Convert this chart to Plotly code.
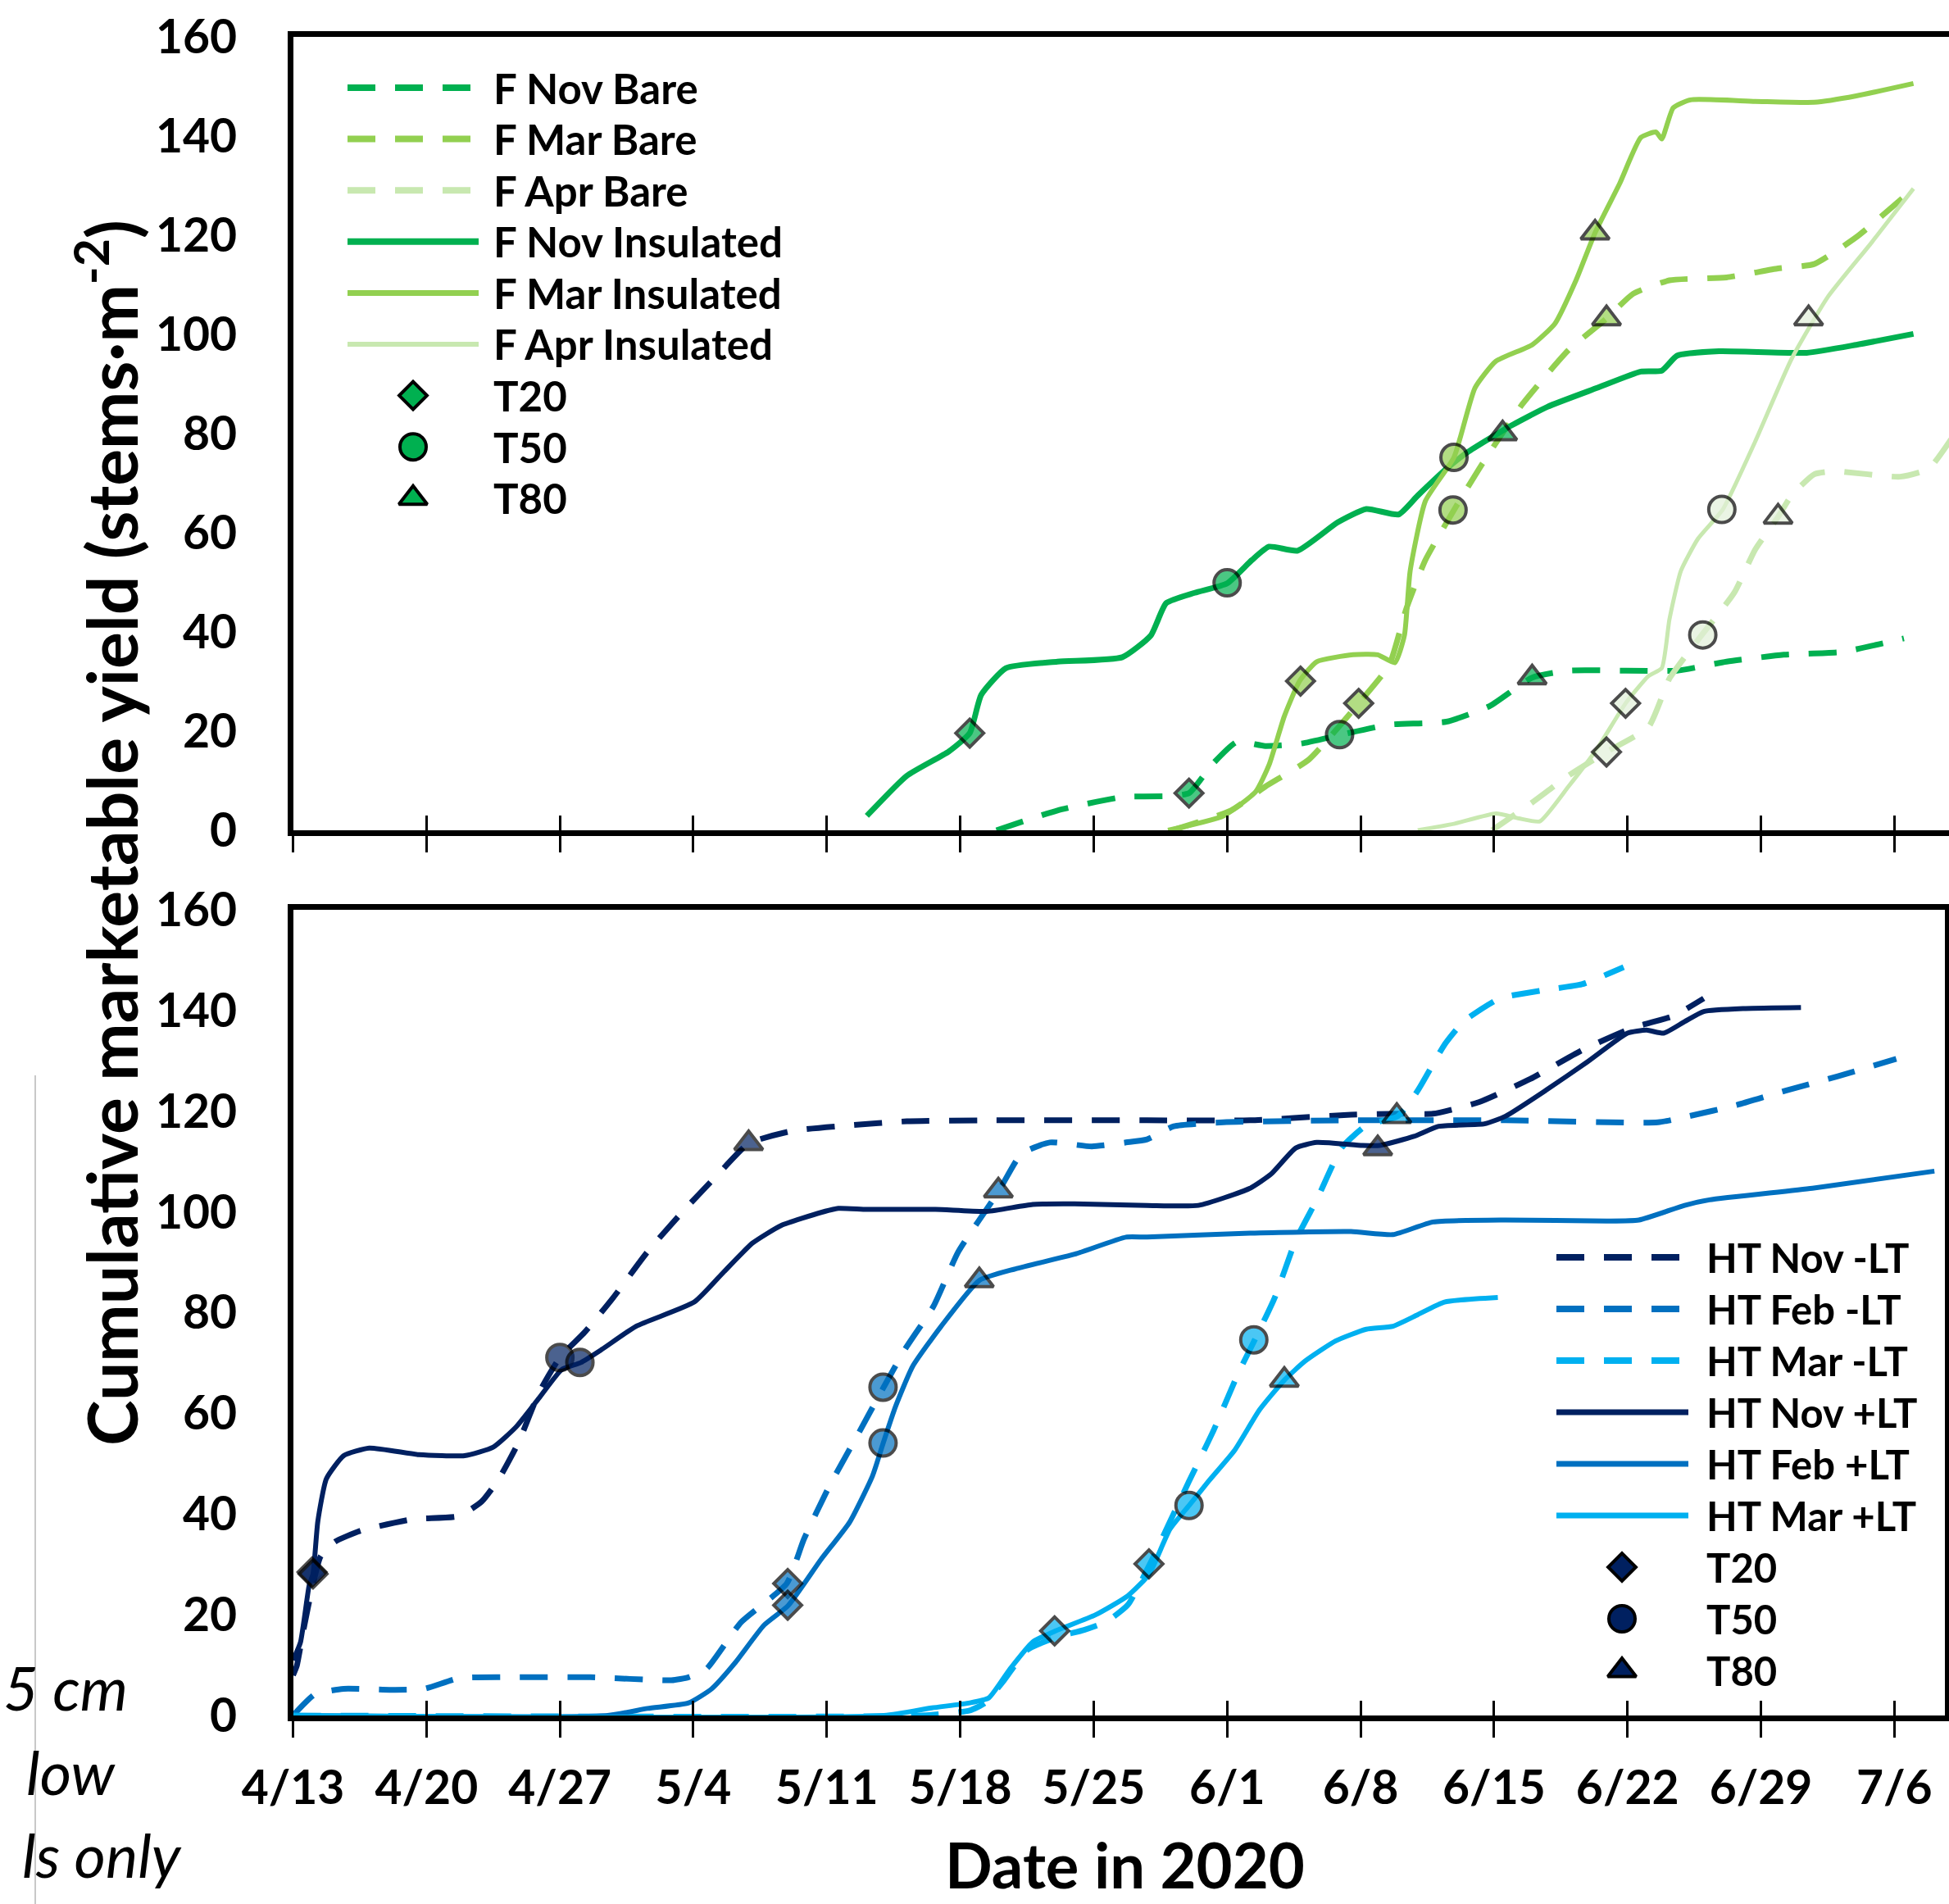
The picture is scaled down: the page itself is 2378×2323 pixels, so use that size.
import plotly.graph_objects as go
import pandas as pd

W, H = 2378, 2323
START = pd.Timestamp("2020-04-13")

# ---------------- tick values / labels ----------------
x_tick_dates = ["2020-04-13", "2020-04-20", "2020-04-27", "2020-05-04", "2020-05-11",
                "2020-05-18", "2020-05-25", "2020-06-01", "2020-06-08", "2020-06-15",
                "2020-06-22", "2020-06-29", "2020-07-06"]
x_tick_labels = ["4/13", "4/20", "4/27", "5/4", "5/11", "5/18", "5/25", "6/1", "6/8",
                 "6/15", "6/22", "6/29", "7/6"]
y_ticks = [0, 20, 40, 60, 80, 100, 120, 140, 160]

# ---------------- top panel (field) : days after 4/13, stems per m2 ----------------
f_nov_bare_day = [36.9, 40.1, 43.5, 45.8, 47.0, 48.2, 49.5, 51.0, 52.9, 55.0, 57.5, 60.5,
                  62.8, 65.0, 66.9, 69.9, 72.6, 75.2, 78.2, 81.3, 84.5]
f_nov_bare_val = [0, 4.0, 6.7, 6.9, 7.5, 13.2, 17.8, 17.0, 17.5, 19.3, 21.3, 21.9,
                  25.1, 30.8, 32.2, 32.2, 32.2, 34.0, 35.4, 36.0, 38.7]

f_mar_bare_day = [46.1, 49.2, 51.0, 53.3, 55.9, 57.5, 58.4, 59.4, 60.9, 62.4, 64.5, 66.9,
                  68.9, 70.3, 72.2, 75.2, 77.9, 79.8, 82.0, 85.0]
f_mar_bare_val = [0, 4.0, 8.8, 14.3, 25.6, 33.3, 44.7, 54.5, 64.6, 74.0, 86.0, 96.8,
                  103.2, 108.2, 110.9, 111.5, 113.3, 114.2, 119.6, 129.4]

f_apr_bare_day = [62.9, 65.0, 66.9, 68.9, 71.1, 72.2, 73.0, 73.9, 75.6, 76.7, 77.9, 78.6,
                  79.8, 80.9, 84.3, 85.8, 87.0]
f_apr_bare_val = [0, 5.6, 11.0, 15.8, 20.8, 30.6, 34.9, 39.4, 47.9, 56.6, 63.2, 67.5,
                  71.8, 72.4, 71.3, 72.9, 79.0]

f_nov_ins_day = [30.1, 32.2, 34.4, 35.5, 36.1, 37.4, 40.1, 43.5, 45.0, 45.8, 47.3, 49.0,
                 50.3, 51.2, 52.7, 54.8, 56.3, 58.0, 59.0, 60.5, 61.6, 63.9, 65.8, 68.4,
                 70.7, 71.8, 72.6, 74.8, 79.4, 82.0, 85.0]
f_nov_ins_val = [2.9, 11.0, 15.9, 19.6, 27.3, 32.7, 34.0, 34.9, 39.3, 45.8, 47.9, 49.8,
                 54.5, 57.2, 56.4, 62.1, 64.8, 63.7, 67.5, 72.9, 76.2, 81.6, 85.4, 89.2,
                 92.5, 92.7, 95.7, 96.6, 96.3, 97.9, 100.1]

f_mar_ins_day = [45.9, 48.8, 50.5, 51.2, 52.0, 52.8, 53.7, 55.6, 56.9, 57.8, 58.3, 58.6,
                 59.4, 60.9, 62.0, 63.1, 65.0, 66.2, 67.3, 68.3, 69.6, 70.7, 71.5, 71.8,
                 72.4, 73.3, 76.7, 79.8, 82.0, 85.0]
f_mar_ins_val = [0, 2.9, 7.8, 13.2, 23.0, 30.1, 34.0, 35.4, 35.4, 33.8, 39.3, 52.3,
                 66.4, 75.2, 89.2, 94.6, 97.9, 102.2, 110.9, 120.5, 130.5, 139.7, 140.8, 139.4,
                 145.7, 147.3, 147.0, 146.8, 148.1, 150.6]

f_apr_ins_day = [59.0, 60.9, 63.1, 64.3, 65.4, 66.9, 68.4, 69.9, 71.1, 71.8, 72.2, 72.8,
                 73.7, 75.0, 76.7, 78.6, 80.5, 82.8, 85.0]
f_apr_ins_val = [0, 1.3, 3.4, 2.4, 1.8, 8.8, 16.4, 25.6, 31.1, 32.7, 42.5, 52.3,
                 58.8, 64.7, 78.4, 95.0, 107.5, 118.5, 129.4]

# T20 / T50 / T80 markers (day, value) per top series
f_nov_bare_t_day = [47.0, 54.9, 65.0]
f_nov_bare_t_val = [7.5, 19.3, 30.8]
f_mar_bare_t_day = [55.9, 60.85, 68.9]
f_mar_bare_t_val = [25.6, 64.6, 103.2]
f_apr_bare_t_day = [68.9, 73.95, 77.9]
f_apr_bare_t_val = [15.8, 39.4, 63.2]
f_nov_ins_t_day = [35.5, 49.0, 63.45]
f_nov_ins_t_val = [19.6, 49.9, 80.0]
f_mar_ins_t_day = [52.85, 60.9, 68.3]
f_mar_ins_t_val = [30.1, 75.2, 120.5]
f_apr_ins_t_day = [69.9, 74.95, 79.5]
f_apr_ins_t_val = [25.6, 64.7, 103.2]

# ---------------- bottom panel (high tunnel) ----------------
ht_nov_m_day = [0.0, 0.2, 0.54, 1.0, 1.45, 2.2, 3.56, 6.3, 8.7, 9.9, 10.8, 11.85, 12.9,
                14.0, 15.3, 16.8, 18.6, 20.45, 22.3, 23.9, 26.2, 29.2, 32.2, 36.7, 44.8,
                50.2, 55.5, 58.2, 59.8, 62.2, 64.9, 67.6, 70.3, 72.4, 74.0]
ht_nov_m_val = [8.0, 9.9, 16.8, 25.3, 31.6, 34.5, 36.7, 39.0, 39.6, 42.5, 47.0, 54.4, 64.1,
                71.1, 76.1, 83.0, 92.1, 100.1, 107.5, 113.6, 116.1, 117.2, 118.0, 118.2, 118.2,
                118.2, 119.3, 119.5, 119.5, 121.8, 126.4, 132.1, 136.6, 138.9, 142.4]

ht_feb_m_day = [0.0, 1.15, 2.66, 5.07, 6.88, 8.69, 11.1, 15.6, 19.85, 20.75, 21.7, 23.5,
                25.9, 26.8, 28.1, 29.6, 31.0, 32.1, 33.6, 34.9, 37.0, 38.2, 39.7, 41.9,
                43.7, 44.8, 46.2, 48.8, 55.5, 63.6, 71.6, 73.2, 75.7, 78.3, 81.0, 84.1]
ht_feb_m_val = [0, 4.2, 5.3, 5.1, 5.3, 7.4, 7.6, 7.6, 7.0, 7.6, 9.3, 18.5,
                26.2, 35.0, 45.3, 55.6, 65.3, 72.7, 81.3, 92.1, 104.0, 111.5, 113.8, 113.0,
                113.8, 114.4, 117.0, 117.8, 118.2, 118.2, 117.8, 119.0, 121.2, 124.1, 126.9, 130.4]

ht_mar_m_day = [0.0, 33.0, 35.5, 36.3, 37.3, 38.5, 40.0, 41.5, 42.7, 43.8, 44.95, 46.0,
                47.0, 48.3, 49.6, 50.45, 51.5, 52.6, 53.7, 55.0, 56.3, 57.95, 59.0, 60.4,
                61.4, 63.3, 65.7, 67.6, 69.8]
ht_mar_m_val = [0, 0, 1.0, 2.5, 7.0, 13.0, 15.5, 17.0, 18.7, 22.0, 30.1, 38.5,
                46.5, 56.7, 68.1, 74.6, 83.0, 94.4, 102.4, 112.7, 117.2, 119.0, 124.1, 133.2,
                137.8, 142.4, 144.1, 145.2, 148.6]

ht_nov_p_day = [0.0, 0.39, 0.85, 1.05, 1.3, 1.75, 2.66, 4.0, 6.6, 9.0, 10.5, 11.7, 12.9,
                14.1, 15.1, 16.2, 18.0, 21.05, 22.6, 24.1, 25.6, 27.7, 28.6, 30.1, 33.7,
                36.4, 38.8, 41.0, 44.8, 47.5, 50.2, 51.3, 52.6, 53.7, 56.1, 57.0, 58.8,
                60.1, 62.5, 63.6, 65.7, 67.9, 70.0, 71.0, 71.9, 73.0, 74.0, 76.2, 79.1]
ht_nov_p_val = [11.0, 14.5, 25.9, 28.1, 38.5, 47.0, 51.6, 53.1, 51.8, 51.6, 53.3, 57.3, 63.0,
                68.7, 70.1, 72.7, 77.3, 82.1, 88.1, 93.8, 97.3, 99.9, 100.7, 100.5, 100.5,
                100.1, 101.5, 101.6, 101.3, 101.3, 104.7, 107.5, 112.7, 113.8, 113.2, 113.2, 115.0,
                117.0, 117.5, 119.0, 124.1, 129.8, 135.5, 136.1, 135.5, 137.8, 139.8, 140.4, 140.6]

ht_feb_p_day = [0.0, 16.5, 18.6, 20.75, 21.96, 23.2, 24.7, 25.97, 27.7, 29.2, 30.4, 30.95,
                31.6, 32.5, 34.0, 36.0, 37.9, 41.0, 43.7, 44.8, 50.2, 55.5, 57.7, 59.8,
                63.6, 68.9, 70.6, 73.0, 74.3, 79.7, 86.1]
ht_feb_p_val = [0, 0, 1.4, 2.5, 5.3, 10.5, 17.9, 21.8, 31.0, 38.4, 47.6, 54.0,
                61.3, 69.3, 77.3, 86.4, 88.7, 91.6, 95.0, 95.0, 95.8, 96.1, 95.5, 98.0,
                98.4, 98.2, 98.4, 101.3, 102.4, 104.7, 108.1]

ht_mar_p_day = [0.0, 31.0, 33.5, 35.5, 36.5, 37.6, 38.8, 40.0, 42.1, 43.8, 44.9, 46.0,
                47.0, 48.0, 49.4, 50.7, 52.0, 53.1, 54.7, 56.3, 57.7, 59.0, 60.4, 63.2]
ht_mar_p_val = [0, 0, 1.5, 2.5, 3.5, 9.2, 14.6, 16.8, 20.0, 23.8, 28.0, 37.0,
                41.7, 46.4, 52.7, 60.7, 66.6, 70.4, 74.4, 76.7, 77.3, 79.6, 82.1, 83.0]

ht_nov_m_t_day = [1.0, 14.0, 23.9]
ht_nov_m_t_val = [28.5, 71.1, 113.6]
ht_feb_m_t_day = [25.95, 30.95, 37.0]
ht_feb_m_t_val = [26.2, 65.2, 104.2]
ht_mar_m_t_day = [44.9, 50.4, 57.9]
ht_mar_m_t_val = [30.1, 74.6, 119.0]
ht_nov_p_t_day = [1.05, 15.05, 56.9]
ht_nov_p_t_val = [28.1, 70.1, 112.6]
ht_feb_p_t_day = [25.95, 30.95, 36.0]
ht_feb_p_t_val = [21.9, 54.1, 86.4]
ht_mar_p_t_day = [39.95, 47.0, 52.0]
ht_mar_p_t_val = [16.8, 41.7, 66.6]

marker_names = ["T20", "T50", "T80"]
marker_symbols = ["diamond", "circle", "triangle-up"]
marker_sizes = [26, 32, 30]

top_names = ["F Nov Bare", "F Mar Bare", "F Apr Bare",
             "F Nov Insulated", "F Mar Insulated", "F Apr Insulated"]
bot_names = ["HT Nov -LT", "HT Feb -LT", "HT Mar -LT",
             "HT Nov +LT", "HT Feb +LT", "HT Mar +LT"]

# ---------------- styles ----------------
C_NOV, C_MAR, C_APR, C_APR_FILL = "#00B050", "#92D050", "#C8E8B0", "#E2F0D9"
C_HNOV, C_HFEB, C_HMAR = "#002060", "#0070C0", "#00B0F0"
DASH = "34px,24px"
FONT = "Lato"

top_series = [
    (f_nov_bare_day, f_nov_bare_val, C_NOV, DASH, 7, f_nov_bare_t_day, f_nov_bare_t_val, C_NOV),
    (f_mar_bare_day, f_mar_bare_val, C_MAR, DASH, 7, f_mar_bare_t_day, f_mar_bare_t_val, C_MAR),
    (f_apr_bare_day, f_apr_bare_val, C_APR, DASH, 7, f_apr_bare_t_day, f_apr_bare_t_val, C_APR_FILL),
    (f_nov_ins_day, f_nov_ins_val, C_NOV, "solid", 7, f_nov_ins_t_day, f_nov_ins_t_val, C_NOV),
    (f_mar_ins_day, f_mar_ins_val, C_MAR, "solid", 6, f_mar_ins_t_day, f_mar_ins_t_val, C_MAR),
    (f_apr_ins_day, f_apr_ins_val, C_APR, "solid", 5, f_apr_ins_t_day, f_apr_ins_t_val, C_APR_FILL),
]
bot_series = [
    (ht_nov_m_day, ht_nov_m_val, C_HNOV, DASH, 7, ht_nov_m_t_day, ht_nov_m_t_val, C_HNOV),
    (ht_feb_m_day, ht_feb_m_val, C_HFEB, DASH, 7, ht_feb_m_t_day, ht_feb_m_t_val, C_HFEB),
    (ht_mar_m_day, ht_mar_m_val, C_HMAR, DASH, 7, ht_mar_m_t_day, ht_mar_m_t_val, C_HMAR),
    (ht_nov_p_day, ht_nov_p_val, C_HNOV, "solid", 6, ht_nov_p_t_day, ht_nov_p_t_val, C_HNOV),
    (ht_feb_p_day, ht_feb_p_val, C_HFEB, "solid", 6, ht_feb_p_t_day, ht_feb_p_t_val, C_HFEB),
    (ht_mar_p_day, ht_mar_p_val, C_HMAR, "solid", 6, ht_mar_p_t_day, ht_mar_p_t_val, C_HMAR),
]


def to_dates(days):
    return [START + pd.Timedelta(days=d) for d in days]


# ---------------- layout geometry (pixels) ----------------
PX_DAY = 23.26
L = 357.5
R_TOP, R_BOT = 2378.0, 2372.5
T1, B1 = 45.0, 1013.0
T2, B2 = 1110.0, 2093.0


def ydom(t, b):
    return [1 - b / H, 1 - t / H]


def px(x):
    return x / W


def py(y):
    return 1 - y / H


fig = go.Figure()

# data lines
for names, series, xa, ya in [(top_names, top_series, "x", "y"), (bot_names, bot_series, "x2", "y2")]:
    for nm, (d, v, col, dash, lw, _, _, _) in zip(names, series):
        fig.add_trace(go.Scatter(x=to_dates(d), y=v, mode="lines", name=nm,
                                 line=dict(color=col, width=lw, dash=dash, shape="spline", smoothing=0.5),
                                 xaxis=xa, yaxis=ya, showlegend=False, hoverinfo="skip"))
# markers on top
for names, series, xa, ya in [(top_names, top_series, "x", "y"), (bot_names, bot_series, "x2", "y2")]:
    for nm, (_, _, _, _, _, md, mv, fill) in zip(names, series):
        fig.add_trace(go.Scatter(x=to_dates(md), y=mv, mode="markers", name=nm + " T",
                                 marker=dict(symbol=marker_symbols, size=marker_sizes, color=fill,
                                             line=dict(color="black", width=4)),
                                 xaxis=xa, yaxis=ya, showlegend=False, hoverinfo="skip",
                                 cliponaxis=False))

# dummy traces to carry the inside-tick overlay axes
fig.add_trace(go.Scatter(x=[x_tick_dates[0]], y=[None], xaxis="x3", yaxis="y", showlegend=False,
                         mode="lines", hoverinfo="skip"))
fig.add_trace(go.Scatter(x=[x_tick_dates[0]], y=[None], xaxis="x4", yaxis="y2", showlegend=False,
                         mode="lines", hoverinfo="skip"))

# ---------------- hand-built legends on a pixel overlay ----------------
leg_specs = [
    dict(series=top_series, names=top_names, mcol=C_NOV, x0=424, x1=584, xm=504, xt=600,
         y0=107, dy=62.6, fs=51),
    dict(series=bot_series, names=bot_names, mcol=C_HNOV, x0=1899, x1=2060, xm=1979, xt=2080,
         y0=1534, dy=63.0, fs=49),
]
annotations = []
for spec in leg_specs:
    for i, (nm, s) in enumerate(zip(spec["names"], spec["series"])):
        yy = spec["y0"] + i * spec["dy"]
        fig.add_trace(go.Scatter(x=[spec["x0"], spec["x1"]], y=[yy, yy], mode="lines",
                                 line=dict(color=s[2], width=s[4] + 1, dash=s[3]),
                                 xaxis="x5", yaxis="y5", showlegend=False, hoverinfo="skip"))
        annotations.append(dict(x=px(spec["xt"]), y=py(yy), xref="paper", yref="paper", text=nm,
                                showarrow=False, xanchor="left", yanchor="middle",
                                font=dict(family=FONT, size=spec["fs"], color="black", weight=700)))
    for j, mn in enumerate(marker_names):
        yy = spec["y0"] + (6 + j) * spec["dy"]
        fig.add_trace(go.Scatter(x=[spec["xm"]], y=[yy], mode="markers",
                                 marker=dict(symbol=marker_symbols[j], size=marker_sizes[j],
                                             color=spec["mcol"], line=dict(color="black", width=4)),
                                 xaxis="x5", yaxis="y5", showlegend=False, hoverinfo="skip"))
        annotations.append(dict(x=px(spec["xt"]), y=py(yy), xref="paper", yref="paper", text=mn,
                                showarrow=False, xanchor="left", yanchor="middle",
                                font=dict(family=FONT, size=spec["fs"], color="black", weight=700)))

# axis titles
annotations.append(dict(x=px(131), y=py(1016), xref="paper", yref="paper",
                        text="Cumulative marketable yield (stems·m<sup>-2</sup>)",
                        textangle=-90, showarrow=False, xanchor="center", yanchor="middle",
                        font=dict(family=FONT, size=84, color="black", weight=700)))
annotations.append(dict(x=px(1372), y=py(2274), xref="paper", yref="paper", text="Date in 2020",
                        showarrow=False, xanchor="center", yanchor="middle",
                        font=dict(family=FONT, size=76, color="black", weight=700)))
# cropped neighbouring text at the left edge
for txt, xr, yc in [("5 cm", 158, 2058), ("low", 144, 2161), ("ls only", 224, 2262)]:
    annotations.append(dict(x=px(xr), y=py(yc), xref="paper", yref="paper", text=txt,
                            showarrow=False, xanchor="right", yanchor="middle",
                            font=dict(family=FONT, size=74, color="black", style="italic")))

shapes = [dict(type="line", xref="paper", yref="paper", x0=px(43), x1=px(43), y0=py(1312), y1=0,
               line=dict(color="#C8C8C8", width=2))]

range_top = [START, START + pd.Timedelta(days=(R_TOP - L) / PX_DAY)]
range_bot = [START, START + pd.Timedelta(days=(R_BOT - L) / PX_DAY)]

base_x = dict(type="date", showgrid=False, zeroline=False, tickvals=x_tick_dates, ticktext=x_tick_labels,
              ticks="outside", ticklen=20, tickwidth=3, tickcolor="black",
              showline=True, linecolor="black", linewidth=7, mirror=True, automargin=False,
              tickfont=dict(family=FONT, size=57, color="black", weight=700))
base_y = dict(range=[0, 160], tickvals=y_ticks, showgrid=False, zeroline=False, ticks="",
              showline=True, linecolor="black", linewidth=7, ticklabelstandoff=50, automargin=False,
              tickfont=dict(family=FONT, size=57, color="black", weight=700))
inner_x = dict(type="date", showgrid=False, zeroline=False, tickvals=x_tick_dates,
               showticklabels=False, ticks="inside", ticklen=18, tickwidth=3, tickcolor="black",
               showline=False, automargin=False)

fig.update_layout(
    width=W, height=H, margin=dict(l=0, r=0, t=0, b=0, pad=0, autoexpand=False),
    paper_bgcolor="white", plot_bgcolor="rgba(0,0,0,0)", showlegend=False,
    xaxis=dict(base_x, domain=[px(L), px(R_TOP)], range=range_top, anchor="y",
               showticklabels=False),
    yaxis=dict(base_y, domain=ydom(T1, B1), anchor="x", mirror=False),
    xaxis2=dict(base_x, domain=[px(L), px(R_BOT)], range=range_bot, anchor="y2",
                ticklabelstandoff=13),
    yaxis2=dict(base_y, domain=ydom(T2, B2), anchor="x2", mirror=True),
    xaxis3=dict(inner_x, overlaying="x", anchor="y", range=range_top),
    xaxis4=dict(inner_x, overlaying="x2", anchor="y2", range=range_bot),
    xaxis5=dict(domain=[0, 1], range=[0, W], visible=False, anchor="y5", automargin=False),
    yaxis5=dict(domain=[0, 1], range=[H, 0], visible=False, anchor="x5", automargin=False),
    annotations=annotations, shapes=shapes,
)

fig.write_html("out.html", config={"displayModeBar": False},
               post_script="document.body.style.margin='0';document.body.style.overflow='hidden';")
